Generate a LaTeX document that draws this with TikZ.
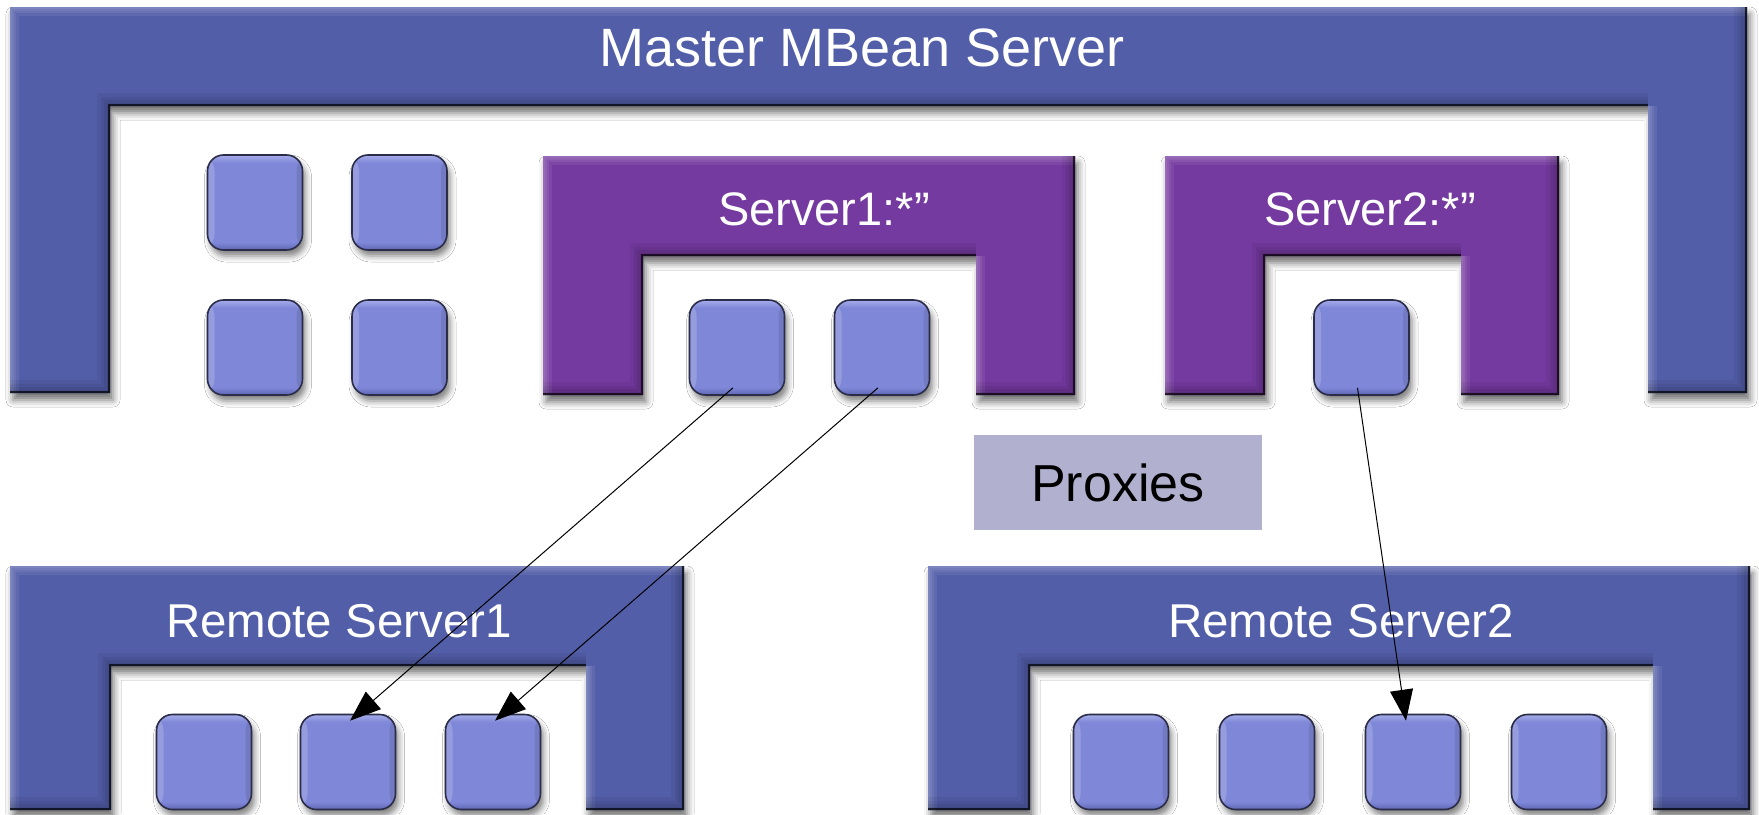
\documentclass[tikz,border=0pt]{standalone}
\usepackage{fontspec}
\setmainfont{Liberation Sans}
\usetikzlibrary{arrows.meta,shadows.blur}

\definecolor{frameblue}{HTML}{525EA8}
\definecolor{framepurple}{HTML}{753AA0}
\definecolor{beanfill}{HTML}{7F88D8}
\definecolor{beanlight}{HTML}{A6ADEA}
\definecolor{beandark}{HTML}{5D65B2}
\definecolor{beanrim}{HTML}{2A2C48}
\definecolor{proxyfill}{HTML}{B1B1CF}

% bean body: darker foot, flat middle, lit top
\pgfdeclareverticalshading{beanshade}{100bp}{color(0bp)=(beandark); color(25bp)=(beandark); color(29bp)=(beanfill); color(71bp)=(beanfill); color(75bp)=(beanlight); color(100bp)=(beanlight)}

\tikzset{
  x=1pt, y=-1pt,
  softshadow/.style={blur shadow={shadow xshift=3pt, shadow yshift=-7pt, shadow blur radius=7pt, shadow opacity=55}},
  blueframe/.style={fill=frameblue, softshadow},
  purpleframe/.style={fill=framepurple, softshadow},
  rimlit/.style={draw=white, opacity=.07, line width=#1},
  rimdim/.style={draw=black, opacity=.06, line width=#1},
  rimedge/.style={draw=black, opacity=.7, line width=3.5pt},
  bean/.style={rectangle, rounded corners=16pt, minimum width=95pt, minimum height=95pt,
    inner sep=0pt, shading=beanshade, draw=beanrim, line width=1.6pt,
    blur shadow={shadow xshift=3pt, shadow yshift=-6pt, shadow blur radius=6pt, shadow opacity=50},
    path picture={
      \fill[white, opacity=.18] (path picture bounding box.north west) rectangle ([xshift=7pt]path picture bounding box.south west);
      \fill[black, opacity=.10] ([xshift=-6pt]path picture bounding box.north east) rectangle (path picture bounding box.south east);
    }},
  frametitle/.style={anchor=base, text=white, inner sep=0pt},
  proxybox/.style={rectangle, fill=proxyfill, minimum width=288pt, minimum height=95pt,
    inner sep=0pt, text=black, font=\fontsize{52}{58}\selectfont},
  arr/.style={draw=black, line width=1pt, -{Triangle[length=31pt, width=23pt]}},
}

% An upside-down U frame with a soft bevel.
% #1 style; #2 outer left, #3 inner left, #4 inner right, #5 outer right;
% #6 top, #7 underside of the band, #8 foot of the legs
\newcommand{\uframe}[8]{%
  \path[#1] (#2,#6) -- (#5,#6) -- (#5,#8) -- (#4,#8) -- (#4,#7) -- (#3,#7) -- (#3,#8) -- (#2,#8) -- cycle;
  \begin{scope}
    \clip (#2,#6) -- (#5,#6) -- (#5,#8) -- (#4,#8) -- (#4,#7) -- (#3,#7) -- (#3,#8) -- (#2,#8) -- cycle;
    \foreach \w in {18pt,12pt,7pt,3pt}{
      \draw[rimlit=\w] (#2,#8) -- (#2,#6) -- (#5,#6) (#4,#8) -- (#4,#7);
    }
    \foreach \w in {26pt,18pt,12pt,7pt}{
      \draw[rimdim=\w] (#5,#6) -- (#5,#8) -- (#4,#8) (#4,#7) -- (#3,#7) -- (#3,#8) -- (#2,#8);
    }
    \draw[rimedge] (#5,#6) -- (#5,#8) -- (#4,#8) (#4,#7) -- (#3,#7) -- (#3,#8) -- (#2,#8);
  \end{scope}}

\begin{document}
\begin{tikzpicture}
  \useasboundingbox (0,0) rectangle (1759,814);
  \fill[white] (0,0) rectangle (1759,814);

  % master server
  \uframe{blueframe}{10}{110}{1648}{1747}{7}{106}{393}
  \node[frametitle, font=\fontsize{54}{60}\selectfont] (mastertitle) at (862,66) {Master MBean Server};

  % local MBeans of the master
  \node[bean] (m1) at (255,202.5) {};
  \node[bean] (m2) at (399.5,202.5) {};
  \node[bean] (m3) at (255,347.5) {};
  \node[bean] (m4) at (399.5,347.5) {};

  % proxy groups
  \uframe{purpleframe}{543}{643}{976}{1075}{156}{256}{395}
  \node[frametitle, font=\fontsize{47}{52}\selectfont] (s1title) at (824,225) {Server1:*”};
  \node[bean] (s1a) at (737,347.5) {};
  \node[bean] (s1b) at (882,347.5) {};

  \uframe{purpleframe}{1165}{1265}{1461}{1559}{156}{256}{395}
  \node[frametitle, font=\fontsize{47}{52}\selectfont] (s2title) at (1370,225) {Server2:*”};
  \node[bean] (s2a) at (1361.5,347.5) {};

  \node[proxybox] (proxies) at (1118,482.5) {Proxies};

  % remote servers
  \uframe{blueframe}{10}{111}{586}{684}{566}{666}{810}
  \node[frametitle, font=\fontsize{47.5}{52}\selectfont] (r1title) at (339,637) {Remote Server1};
  \node[bean] (r1a) at (204,762) {};
  \node[bean] (r1b) at (348,762) {};
  \node[bean] (r1c) at (493,762) {};

  \uframe{blueframe}{928}{1030}{1653}{1750}{566}{666}{810}
  \node[frametitle, font=\fontsize{47.5}{52}\selectfont] (r2title) at (1341,637) {Remote Server2};
  \node[bean] (r2a) at (1121,762) {};
  \node[bean] (r2b) at (1267,762) {};
  \node[bean] (r2c) at (1413,762) {};
  \node[bean] (r2d) at (1559,762) {};

  % proxy to remote MBean links
  \draw[arr] ([xshift=-4pt, yshift=8pt]s1a.south) -- ([xshift=2pt, yshift=-7pt]r1b.north);
  \draw[arr] ([xshift=-4pt, yshift=8pt]s1b.south) -- ([xshift=2pt, yshift=-7pt]r1c.north);
  \draw[arr] ([xshift=-4pt, yshift=8pt]s2a.south) -- ([xshift=-7pt, yshift=-7pt]r2c.north);
\end{tikzpicture}
\end{document}
